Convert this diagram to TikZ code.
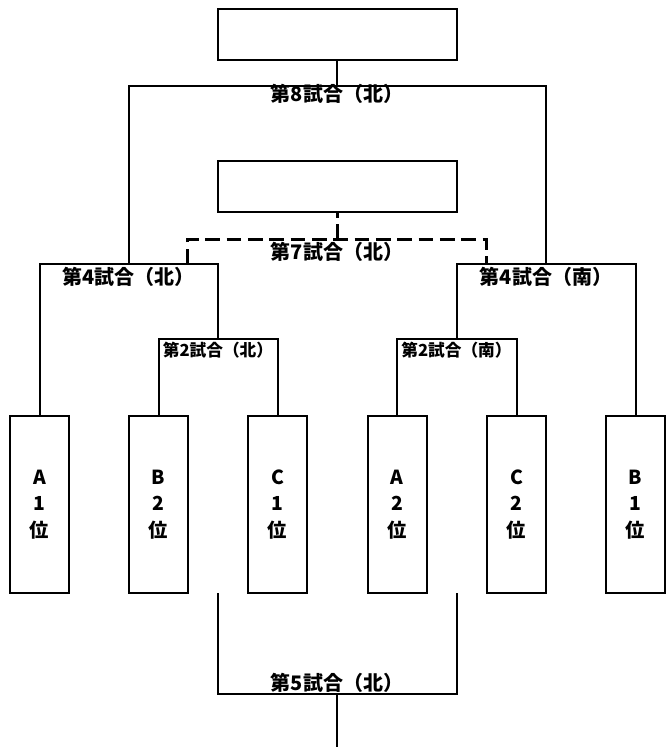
\documentclass[tikz,border=0pt]{standalone}
\usepackage{fontspec}
\newfontfamily\jpfont{Noto Sans CJK JP}

\begin{document}
\begin{tikzpicture}[x=0.75pt,y=-0.75pt,line width=1.5pt,
        team/.style={draw,minimum width=44.25pt,minimum height=132.75pt,inner sep=0pt,
            align=center,font=\jpfont\bfseries\fontsize{14.5}{20}\selectfont},
        winbox/.style={draw,minimum width=179.25pt,minimum height=38.25pt,inner sep=0pt},
        game/.style={inner sep=0pt,font=\jpfont\bfseries\fontsize{15}{15}\selectfont},
        subgame/.style={inner sep=0pt,font=\jpfont\bfseries\fontsize{12.5}{12.5}\selectfont},
        knock/.style={line width=2.25pt,dash pattern=on 11pt off 5pt}]
        \useasboundingbox (0,0) rectangle (665,747);

        % boxes
        \node[winbox] (win8) at (337,34.5) {};
        \node[winbox] (win7) at (337,186.5) {};
        \node[team] (a1) at (39.5,504.5) {A\\1\\位};
        \node[team] (b2) at (158.5,504.5) {B\\2\\位};
        \node[team] (c1) at (277.5,504.5) {C\\1\\位};
        \node[team] (a2) at (397,504.5) {A\\2\\位};
        \node[team] (c2) at (516.5,504.5) {C\\2\\位};
        \node[team] (b1) at (635.5,504.5) {B\\1\\位};

        % bracket joints
        \coordinate (m2n) at (218,339);
        \coordinate (m2s) at (456.5,339);
        \coordinate (m4n) at (128.5,263.5);
        \coordinate (m4s) at (546,263.5);
        \coordinate (m8) at (337,85.5);
        \coordinate (m7) at (337,239);
        \coordinate (d7n) at (187,263.5);
        \coordinate (d7s) at (486.5,263.5);
        \coordinate (m5) at (337,694);
        \coordinate (c5n) at (218,593);
        \coordinate (c5s) at (456.5,593);
        \coordinate (e5) at (337,747);

        \draw (b2.north) |- (m2n) -| (c1.north);
        \draw (a2.north) |- (m2s) -| (c2.north);
        \draw (a1.north) |- (m4n) -| (m2n);
        \draw (m2s) |- (m4s) -| (b1.north);
        \draw (m4n) |- (m8) -| (m4s);
        \draw (m8) -- (win8.south);
        \draw[knock] (d7n) |- (m7) -| (d7s);
        \draw[knock] (m7) -- (win7.south);
        \draw (c5n) |- (m5) -| (c5s);
        \draw (m5) -- (e5);

        % game labels
        \node[game] (g8) at (337,94) {第8試合（北）};
        \node[game] (g7) at (337,251.5) {第7試合（北）};
        \node[game] (g4n) at (128.5,276.5) {第4試合（北）};
        \node[game] (g4s) at (546,276.5) {第4試合（南）};
        \node[subgame] (g2n) at (218,350.5) {第2試合（北）};
        \node[subgame] (g2s) at (456.5,350.5) {第2試合（南）};
        \node[game] (g5) at (337,683) {第5試合（北）};
    \end{tikzpicture}
\end{document}
